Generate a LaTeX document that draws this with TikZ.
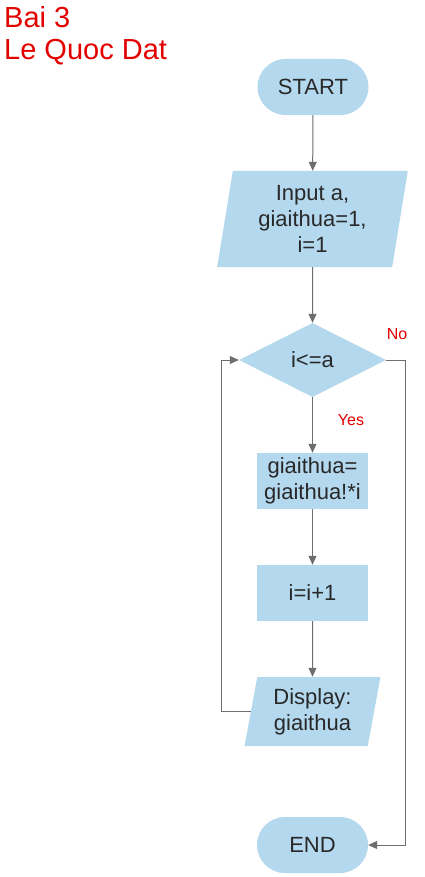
\documentclass[tikz,border=0pt]{standalone}
\usepackage{fontspec}
\setmainfont{Liberation Sans}
\usetikzlibrary{shapes.geometric,arrows.meta}
\definecolor{fillblue}{RGB}{180,216,238}
\definecolor{txt}{RGB}{40,40,40}
\definecolor{ln}{RGB}{110,110,110}
\definecolor{redt}{RGB}{226,0,0}
\tikzset{
  base/.style={fill=fillblue,draw=none,text=txt,inner sep=0pt,align=center,
    font=\fontsize{22}{26}\selectfont},
  term/.style={base,rectangle,rounded corners=28pt,minimum width=111pt,minimum height=56pt},
  proc/.style={base,rectangle,minimum width=111pt,minimum height=56pt},
  io/.style={base,trapezium,trapezium stretches=true,trapezium left angle=#1,trapezium right angle=180-#1},
  dec/.style={base,diamond,aspect=1.99,minimum width=147pt,minimum height=74pt},
  arr/.style={draw=ln,line width=1pt,-{Triangle[length=9pt,width=8pt]}},
  lbl/.style={text=redt,font=\fontsize{16}{18}\selectfont,inner sep=0pt},
  ttl/.style={text=redt,font=\fontsize{29}{32}\selectfont,inner sep=0pt,anchor=base west}
}
\begin{document}
\begin{tikzpicture}[x=1pt,y=-1pt]
\useasboundingbox[fill=white] (0,0) rectangle (425,877);
\node[ttl] (t1) at (4,28) {Bai 3};
\node[ttl] (t2) at (4,60) {Le Quoc Dat};
\node[term] (start) at (313,87) {START};
\node[io=81,minimum width=191pt,minimum height=96pt] (inp) at (312.5,219) {Input a,\\giaithua=1,\\i=1};
\node[dec] (cond) at (312.5,360) {i<=a};
\node[proc] (mul) at (312.5,481) {giaithua=\\giaithua!*i};
\node[proc] (inc) at (312.5,593) {i=i+1};
\node[io=79,minimum width=137pt,minimum height=69pt] (disp) at (312.5,711.5) {Display:\\giaithua};
\node[term] (end) at (312.5,845) {END};
\node[lbl] (no) at (397,334) {No};
\node[lbl] (yes) at (351,420) {Yes};
\coordinate (loopL) at (221,715);
\coordinate (noR) at (405,845);
\draw[arr] (start) -- (inp);
\draw[arr] (inp) -- (cond);
\draw[arr] (cond) -- (mul);
\draw[arr] (mul) -- (inc);
\draw[arr] (inc) -- (disp);
\draw[arr] (disp.west) -- (disp.west -| loopL) |- (cond.west);
\draw[arr] (cond.east) -| (noR) -- (end.east);
\end{tikzpicture}
\end{document}
